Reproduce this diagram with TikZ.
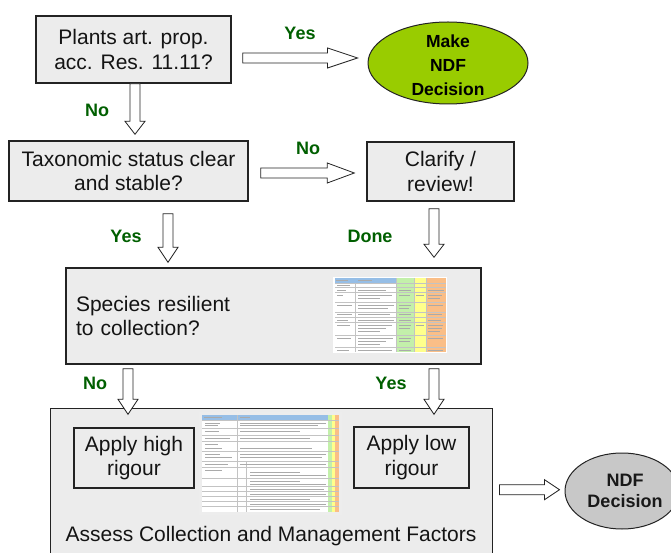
\documentclass[tikz,border=0pt]{standalone}
\usepackage{fontspec}
\setmainfont{Liberation Sans}
\usetikzlibrary{calc,shapes.geometric}
\definecolor{boxfill}{RGB}{236,236,236}
\definecolor{boxline}{RGB}{35,35,35}
\definecolor{lblgreen}{RGB}{0,95,0}
\definecolor{ellgreen}{RGB}{153,204,0}
\definecolor{ellgray}{RGB}{200,200,200}
\definecolor{tblue}{RGB}{150,190,230}
\definecolor{tgreen}{RGB}{195,240,170}
\definecolor{tyellow}{RGB}{255,255,140}
\definecolor{torange}{RGB}{250,190,135}
\definecolor{tline}{RGB}{195,195,195}
\definecolor{ttext}{RGB}{170,170,170}
\tikzset{
  box/.style={draw=boxline, fill=boxfill, line width=1.4pt, inner sep=0pt, align=center,
     font=\fontsize{21}{24.5}\selectfont, text=black!92},
  lbl/.style={font=\fontsize{18}{20}\selectfont\bfseries, text=lblgreen, inner sep=0pt},
  elltext/.style={font=\fontsize{17.5}{24}\selectfont\bfseries, align=center, inner sep=0pt, text=black},
  elltexttwo/.style={font=\fontsize{18}{21}\selectfont\bfseries, align=center, inner sep=0pt, text=black!90},
  ellbox/.style={ellipse, draw=boxline, line width=1pt, inner sep=0pt},
  blk/.style={draw=boxline, fill=white, line width=0.8pt, line join=miter},
  tgrid/.style={tline, line width=0.4pt},
  ttxt/.style={ttext, line width=0.7pt},
  hblock/.style={to path={let \p1=(\tikztostart), \p2=(\tikztotarget) in
     (\x1,\y1+5pt) -- (\x2-#1,\y1+5pt) -- (\x2-#1,\y1+10pt) -- (\x2,\y1) -- (\x2-#1,\y1-10pt) -- (\x2-#1,\y1-5pt) -- (\x1,\y1-5pt) -- cycle}},
  vblock/.style={to path={let \p1=(\tikztostart), \p2=(\tikztotarget) in
     (\x1-5pt,\y1) -- (\x1-5pt,\y2+#1) -- (\x1-10pt,\y2+#1) -- (\x1,\y2) -- (\x1+10pt,\y2+#1) -- (\x1+5pt,\y2+#1) -- (\x1+5pt,\y1) -- cycle}},
}
\begin{document}
\begin{tikzpicture}[x=1pt,y=-1pt]
\useasboundingbox[fill=white] (0,0) rectangle (671,553);

% nodes
\node[box, minimum width=195pt, minimum height=67pt] (b1) at (133.5,49.5) {Plants art. prop.\\acc. Res. 11.11?};
\node[ellbox, fill=ellgreen, minimum width=160pt, minimum height=82pt,
   label={[elltext, yshift=-2pt]center:{Make\\NDF\\Decision}}] (e1) at (448,63) {};
\node[box, minimum width=239pt, minimum height=60pt] (b2) at (128.5,171) {Taxonomic status clear\\and stable?};
\node[box, minimum width=147pt, minimum height=59pt] (b3) at (440.5,171.5) {Clarify /\\review!};
\node[box, minimum width=415pt, minimum height=96pt, text width=395pt, align=left] (b4) at (273.5,316) {Species resilient\\to collection?};
\node[box, minimum width=442pt, minimum height=160pt, anchor=north west] (b5) at (50,408) {};
\node[font=\fontsize{21}{24}\selectfont, text=black!92, inner sep=0pt] (b5t) at (271,536) {Assess Collection and Management Factors};
\node[box, minimum width=120pt, minimum height=60pt] (b6) at (134,458) {Apply high\\rigour};
\node[box, minimum width=115pt, minimum height=61pt] (b7) at (411.5,457.5) {Apply low\\rigour};
\node[ellbox, fill=ellgray, minimum width=114pt, minimum height=76pt,
   label={[elltexttwo, xshift=3pt]center:{NDF\\Decision}}] (e2) at (622,491) {};

% table thumbnail 1
\fill[white] (333,277) rectangle (447,353);
\fill[tblue] (335,278) rectangle (396,283);
\fill[tgreen] (396,278) rectangle (414,352);
\fill[tyellow] (414,278) rectangle (426,352);
\fill[torange] (426,278) rectangle (446,352);
\foreach \yy in {283,287,292,302,312,317,322,335,347}
  \draw[tgrid] (335,\yy) -- (446,\yy);
\draw[tgrid] (355,283) -- (355,352) (396,278) -- (396,352) (414,278) -- (414,352) (426,278) -- (426,352);
\foreach \yy/\a/\b in {280.5/336/348, 280.5/358/372, 285/337/350, 290/337/346, 290/358/386, 290/399/411, 290/428/444,
   295/337/343, 295/358/392, 295/399/410, 295/416/424, 295/428/442, 298/358/380, 298/428/440,
   305/337/352, 305/358/394, 305/399/411, 305/428/443, 308/358/388, 308/399/409,
   314.5/337/352, 314.5/358/390, 314.5/399/411, 314.5/428/442, 320/337/348, 320/358/394, 320/399/411, 320/428/441,
   325/337/350, 325/358/392, 325/399/411, 325/416/424, 325/428/443, 328/358/386, 328/399/410, 328/428/442, 331/358/380, 331/428/440,
   338/337/351, 338/358/393, 338/399/411, 338/428/443, 341/358/386, 341/399/410, 344/358/380,
   350/337/349, 350/358/392, 350/399/411, 350/428/443}
  \draw[ttxt] (\a,\yy) -- (\b,\yy);

% table thumbnail 2
\fill[black!7] (199,412) rectangle (342,515);
\fill[white] (202,415) rectangle (339,512);
\fill[tblue] (202,415) rectangle (328,420);
\fill[tgreen] (328,415) rectangle (332,512);
\fill[tyellow] (332,415) rectangle (335,512);
\fill[torange] (335,415) rectangle (339,512);
\foreach \yy in {420,428,435,441,451,461,467,478,486,491,496,501,506}
  \draw[tgrid] (202,\yy) -- (339,\yy);
\draw[tgrid] (237,415) -- (237,512) (246,461) -- (246,512);
\foreach \yy/\a/\b in {417.5/204/222, 417.5/240/250,
   423/205/220, 423/240/326, 425.5/205/218, 425.5/240/318, 431/205/219, 431/240/300,
   438/205/230, 438/240/310, 444/205/218, 448/205/222, 448/240/312,
   454/205/220, 454/240/326, 457/205/232, 457/240/322, 464/205/228, 464/240/326,
   470/205/222, 472/250/300, 475/250/326, 481/250/300, 484/250/326,
   489/250/324, 494/250/326, 499/250/310, 504/250/326, 509/250/320}
  \draw[ttxt] (\a,\yy) -- (\b,\yy);

% connectors
\draw[blk] ([xshift=11pt,yshift=-8.5pt]b1.east) to[hblock=30pt] ([xshift=-10pt]e1.west);
\draw[blk] ([xshift=1.5pt]b1.south) to[vblock=13pt] ([yshift=6pt]b2.north);
\draw[blk] ([xshift=12pt,yshift=-2pt]b2.east) to[hblock=27pt] ([xshift=-12pt]b3.west);
\draw[blk] ([xshift=39.5pt,yshift=-12pt]b2.south) to[vblock=15pt] ([yshift=5pt]b4.north);
\draw[blk] ([xshift=-6.5pt,yshift=-7pt]b3.south) to[vblock=13pt] ([yshift=10pt]b4.north);
\draw[blk] ([xshift=-145.5pt,yshift=-4pt]b4.south) to[vblock=15pt] ([yshift=13pt]b6.north);
\draw[blk] ([xshift=160.5pt,yshift=-4pt]b4.south) to[vblock=15pt] ([yshift=12pt]b7.north);
\draw[blk] ([xshift=6pt,yshift=-1pt]b5.east) to[hblock=15pt] ([xshift=-5pt]e2.west);

% labels
\node[lbl] (lyes1) at (300,33) {Yes};
\node[lbl] (lno1) at (97,110) {No};
\node[lbl] (lno2) at (308,148) {No};
\node[lbl] (lyes2) at (126,236) {Yes};
\node[lbl] (ldone) at (370,236) {Done};
\node[lbl] (lno3) at (95,383) {No};
\node[lbl] (lyes3) at (391,383) {Yes};
\end{tikzpicture}
\end{document}
